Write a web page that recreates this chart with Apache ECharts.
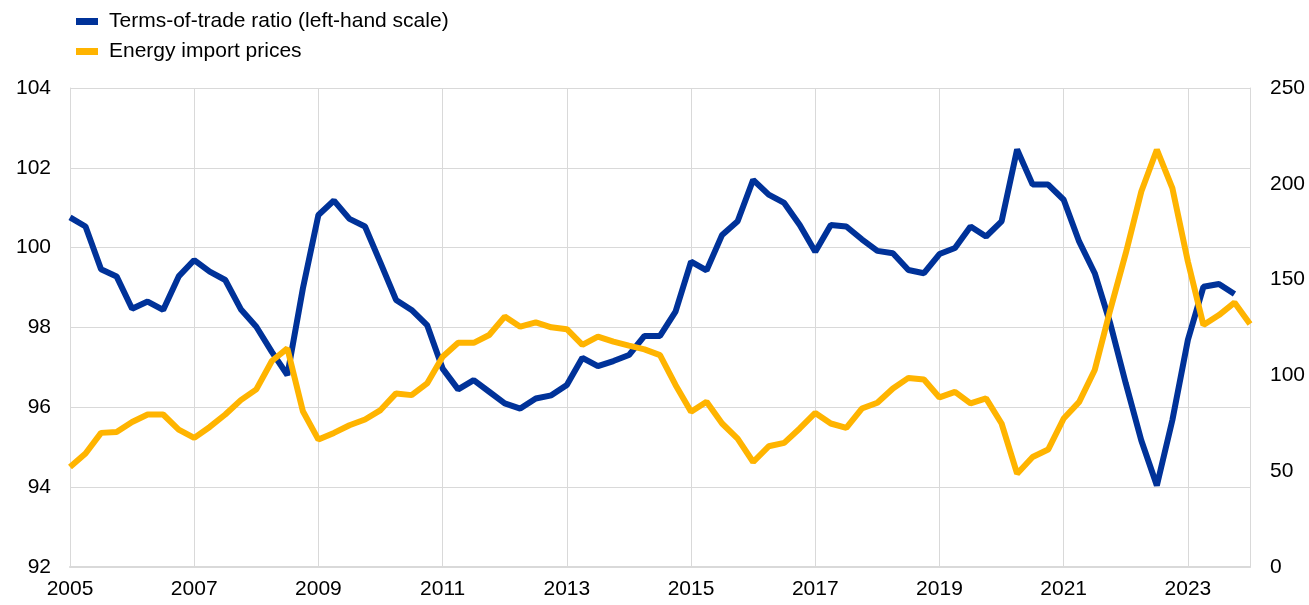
<!DOCTYPE html>
<html>
<head>
<meta charset="utf-8">
<script src="https://cdn.jsdelivr.net/npm/echarts@6/dist/echarts.min.js"></script>
<style>
  html, body { margin: 0; padding: 0; background: #fff; }
  #chart { width: 1309px; height: 605px; }
</style>
</head>
<body>
<div id="chart"></div>
<script>
// quarterly, 2005 Q1 .. 2024 Q1
const quarters = []
for (let y = 2005; y <= 2024; y++) {
  for (let q = 1; q <= 4; q++) {
    if (y === 2024 && q > 1) break
    quarters.push(y + ' Q' + q)
  }
}

const termsOfTrade = [
  100.76, 100.53, 99.46, 99.28, 98.47, 98.65, 98.44, 99.28,
  99.69, 99.40, 99.19, 98.46, 98.02, 97.39, 96.81, 98.98,
  100.82, 101.18, 100.72, 100.53, 99.62, 98.69, 98.44, 98.06,
  96.97, 96.45, 96.68, 96.39, 96.10, 95.97, 96.22, 96.30,
  96.56, 97.24, 97.03, 97.16, 97.31, 97.79, 97.79, 98.40,
  99.65, 99.43, 100.32, 100.66, 101.70, 101.33, 101.12, 100.57,
  99.90, 100.57, 100.53, 100.21, 99.92, 99.86, 99.44, 99.36,
  99.84, 99.99, 100.53, 100.28, 100.66, 102.46, 101.58, 101.58,
  101.20, 100.15, 99.36, 98.10, 96.60, 95.17, 94.04, 95.68,
  97.69, 99.02, 99.09, 98.84
]

const energyPrices = [
  52.2, 59.2, 70.0, 70.5, 75.7, 79.6, 79.6, 71.7,
  67.4, 73.1, 79.6, 87.1, 92.7, 107.5, 114.1, 81.3,
  66.5, 70.0, 74.0, 77.0, 81.9, 90.6, 89.7, 95.8,
  109.7, 117.0, 117.0, 121.1, 130.7, 125.4, 127.7, 125.1,
  124.1, 115.9, 120.2, 117.6, 115.5, 113.6, 110.6, 95.0,
  81.0, 86.2, 74.9, 67.0, 54.8, 63.0, 64.8, 72.3,
  80.4, 74.9, 72.6, 82.7, 85.7, 93.2, 98.7, 97.9,
  88.5, 91.4, 85.4, 88.0, 74.9, 48.7, 57.4, 61.3,
  77.5, 86.2, 102.8, 134.2, 163.8, 196.0, 217.8, 197.8,
  159.4, 126.3, 131.5, 138.0, 126.8
]

const Colors = ['#003299', '#FFB400']
const gridColor = '#d9d9d9'
const font = '"Liberation Sans", Arial, sans-serif'

const chart = echarts.init(document.getElementById('chart'))

chart.setOption({
  animation: false,
  textStyle: { fontFamily: font },
  legend: {
    orient: 'vertical',
    left: 71,
    top: 6,
    icon: 'rect',
    itemWidth: 22,
    itemHeight: 7,
    itemGap: 9,
    textStyle: {
      color: '#000',
      fontSize: 21,
      fontFamily: font,
      padding: [0, 0, 0, 6]
    },
    data: ['Terms-of-trade ratio (left-hand scale)', 'Energy import prices']
  },
  grid: {
    left: 70,
    right: 59,
    top: 88,
    bottom: 38,
    containLabel: false
  },
  xAxis: {
    type: 'category',
    boundaryGap: false,
    data: quarters,
    axisTick: { show: false },
    axisLine: { lineStyle: { color: gridColor, width: 2 } },
    axisLabel: {
      interval: 7,
      color: '#000',
      fontSize: 21,
      margin: 12,
      formatter: v => v.slice(0, 4)
    },
    splitLine: {
      show: true,
      interval: 7,
      lineStyle: { color: gridColor, width: 1 }
    }
  },
  yAxis: [
    {
      type: 'value',
      min: 92,
      max: 104,
      interval: 2,
      axisLine: { show: true, lineStyle: { color: gridColor, width: 1 } },
      axisTick: { show: false },
      axisLabel: { color: '#000', fontSize: 21, margin: 19 },
      splitLine: { lineStyle: { color: gridColor, width: 1 } }
    },
    {
      type: 'value',
      min: 0,
      max: 250,
      interval: 50,
      position: 'right',
      axisLine: { show: true, lineStyle: { color: gridColor, width: 1 } },
      axisTick: { show: false },
      axisLabel: { color: '#000', fontSize: 21, margin: 20 },
      splitLine: { show: false }
    }
  ],
  series: [
    {
      name: 'Terms-of-trade ratio (left-hand scale)',
      type: 'line',
      yAxisIndex: 0,
      symbol: 'none',
      itemStyle: { color: Colors[0] },
      lineStyle: { color: Colors[0], width: 6 },
      data: termsOfTrade
    },
    {
      name: 'Energy import prices',
      type: 'line',
      yAxisIndex: 1,
      symbol: 'none',
      itemStyle: { color: Colors[1] },
      lineStyle: { color: Colors[1], width: 6 },
      data: energyPrices
    }
  ]
})
</script>
</body>
</html>
